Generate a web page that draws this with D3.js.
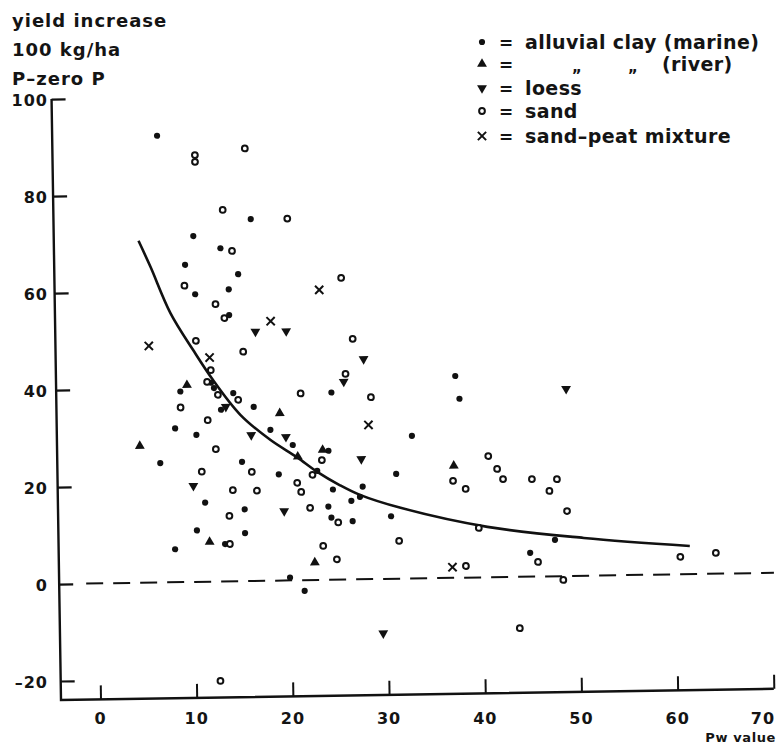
<!DOCTYPE html>
<html>
<head>
<meta charset="utf-8">
<script src="https://cdn.jsdelivr.net/npm/d3@7"></script>
<style>
    body { margin: 0; background: #fff; }
    text { font-family: "DejaVu Sans", sans-serif; font-weight: bold; fill: #141414; }
</style>
</head>
<body>
<div id="chart"></div>
<script>
// values: [Pw value, yield increase]
let marine = [
    [6.8, 92.1], [10.4, 71.3], [13.2, 68.7], [9.5, 65.4], [15.0, 63.3], [10.5, 59.3], [14.0, 60.2], [14.0, 54.9],
    [12.0, 41.0], [12.3, 39.9], [8.8, 39.3], [14.3, 38.8], [13.0, 35.4], [8.2, 31.7], [10.4, 30.3], [6.6, 24.6],
    [11.2, 16.3], [10.3, 10.6], [13.2, 7.7], [8.0, 6.8], [16.4, 74.6], [16.4, 35.9], [24.5, 38.6], [18.1, 31.1],
    [20.4, 27.9], [24.1, 26.6], [15.1, 24.6], [18.9, 21.9], [22.9, 22.5], [24.5, 18.6], [27.6, 19.1], [27.3, 17.0],
    [26.4, 16.2], [31.1, 21.6], [15.3, 14.8], [24.0, 15.1], [24.3, 12.8], [26.5, 12.0], [30.5, 12.9], [15.3, 9.9],
    [19.9, 0.6], [21.4, -2.2], [32.8, 29.4], [37.4, 41.6], [37.8, 36.9], [47.5, 7.5], [44.9, 4.9]
];
let river = [
    [4.5, 28.2], [9.5, 40.6], [11.6, 8.2], [19.1, 34.5], [20.9, 25.5], [23.5, 26.8], [22.5, 3.6], [37.1, 23.1]
];
let loess = [
    [10.0, 19.8], [16.7, 51.4], [19.9, 51.4], [27.9, 45.4], [25.8, 40.8], [16.1, 30.1], [19.7, 29.6], [27.5, 24.8],
    [19.4, 14.3], [29.5, -11.2], [13.5, 36.0], [48.9, 38.6]
];
let sand = [
    [10.7, 88.0], [10.7, 86.6], [13.5, 76.6], [14.4, 68.1], [9.4, 61.1], [12.6, 57.2], [13.5, 54.3], [10.5, 49.7],
    [12.0, 43.6], [11.6, 41.2], [12.7, 38.5], [14.8, 37.4], [8.8, 36.0], [11.6, 33.3], [12.4, 27.3], [10.9, 22.7],
    [14.1, 18.8], [13.7, 13.5], [13.7, 7.7], [12.5, -20.5], [15.9, 89.2], [20.2, 74.6], [25.7, 62.2], [15.4, 47.3],
    [26.8, 49.6], [26.0, 42.4], [21.3, 38.5], [28.6, 37.5], [23.4, 24.7], [16.1, 22.5], [22.4, 21.7], [16.6, 18.6],
    [20.8, 20.1], [21.2, 18.2], [22.1, 14.9], [25.0, 11.8], [23.4, 7.0], [24.8, 4.2], [31.3, 7.8],
    [40.7, 25.0], [41.6, 22.3], [42.2, 20.2], [45.2, 20.1], [37.0, 20.0], [38.3, 18.3], [39.6, 10.2], [38.2, 2.4],
    [45.7, 3.0], [43.7, -10.6], [47.0, 17.6], [47.8, 20.0], [48.8, 13.4], [48.3, -0.8], [60.5, 3.6], [64.2, 4.3]
];
let sandPeat = [
    [5.6, 48.8], [11.9, 46.2], [23.4, 59.8], [18.3, 53.5], [28.3, 31.8], [36.8, 2.2]
];

// fitted curve as drawn in the figure
let curvePw = [4.7, 5.9, 7.9, 10.2, 12.2, 15.0, 18.1, 20.8, 22.9, 25.2, 27.3, 31.5, 40.5, 50.5, 61.5];
let curveYield = [70.5, 65.1, 55.5, 47.8, 41.6, 34.3, 29.0, 25.4, 22.3, 19.5, 17.4, 14.6, 10.4, 7.8, 5.8];

// dashed zero line extent (Pw)
let zeroLine = [-1.3, 70.2];

let xTicks = [0, 10, 20, 30, 40, 50, 60, 70];
let yTicks = [-20, 0, 20, 40, 60, 80, 100];
let titleLines = ["yield increase", "100 kg/ha", "P\u2013zero P"];
let legendLabels = ["alluvial clay (marine)", "(river)", "loess", "sand", "sand\u2013peat mixture"];

let width = 780, height = 745;

let svg = d3.select("#chart")
    .append("svg")
    .attr("width", width)
    .attr("height", height);

// the drawn axes are a little skewed on the scan, so the plot is turned with them
let plot = svg.append("g")
    .attr("transform", "rotate(-0.9,62,700)");

let x = d3.scaleLinear().domain([0, 70]).range([100.5, 773.9]);
let y = d3.scaleLinear().domain([-20, 100]).range([681, 99]);
let axisX0 = 61, axisY0 = 700;

// axis lines
plot.append("path")
    .attr("d", "M" + axisX0 + "," + y(100) + "V" + axisY0 + "H" + x(70))
    .attr("fill", "none")
    .attr("stroke", "#111")
    .attr("stroke-width", 2.4);

// Y axis ticks
let yAxis = plot.append("g")
    .attr("transform", "translate(" + axisX0 + ",0)")
    .call(d3.axisLeft(y).tickValues(yTicks).tickSize(-14).tickFormat(""));
yAxis.select(".domain").remove();
yAxis.selectAll("line").attr("stroke", "#111").attr("stroke-width", 2.2);

// X axis ticks
let xAxis = plot.append("g")
    .attr("transform", "translate(0," + axisY0 + ")")
    .call(d3.axisBottom(x).tickValues(xTicks).tickSize(-14).tickFormat(""));
xAxis.select(".domain").remove();
xAxis.selectAll("line").attr("stroke", "#111").attr("stroke-width", 2);

// tick labels are typed level, not along the skewed axes
svg.append("g")
    .selectAll("text")
    .data(yTicks)
    .enter()
    .append("text")
    .attr("x", 48)
    .attr("y", function(d) { return y(d) + 1; })
    .attr("dy", "0.36em")
    .attr("text-anchor", "end")
    .style("font-size", "16px")
    .style("letter-spacing", "1px")
    .text(function(d) { return d < 0 ? "\u2013" + Math.abs(d) : d; });

svg.append("g")
    .selectAll("text")
    .data(xTicks)
    .enter()
    .append("text")
    .attr("x", function(d) { return d === 70 ? x(d) - 11 : x(d); })
    .attr("y", 724)
    .attr("text-anchor", "middle")
    .style("font-size", "16px")
    .style("letter-spacing", "1px")
    .text(function(d) { return d; });

// X axis label
svg.append("text")
    .attr("x", 776)
    .attr("y", 742)
    .attr("text-anchor", "end")
    .style("font-size", "13px")
    .style("letter-spacing", "0.6px")
    .text("Pw value");

// dashed zero line
plot.append("line")
    .attr("x1", x(zeroLine[0]))
    .attr("x2", x(zeroLine[1]))
    .attr("y1", y(0))
    .attr("y2", y(0))
    .attr("stroke", "#111")
    .attr("stroke-width", 2)
    .attr("stroke-dasharray", "17,10");

// the curve
plot.append("path")
    .datum(d3.zip(curvePw, curveYield))
    .attr("fill", "none")
    .attr("stroke", "#111")
    .attr("stroke-width", 2.6)
    .attr("d", d3.line()
        .x(function(d) { return x(d[0]); })
        .y(function(d) { return y(d[1]); })
        .curve(d3.curveCatmullRom));

// symbols per soil type
let kinds = [
    {data: marine, type: d3.symbolCircle, size: 30, fill: "#111", stroke: "none", rot: 0},
    {data: river, type: d3.symbolTriangle, size: 42, fill: "#111", stroke: "none", rot: 0},
    {data: loess, type: d3.symbolTriangle, size: 42, fill: "#111", stroke: "none", rot: 180},
    {data: sand, type: d3.symbolCircle, size: 26, fill: "#fff", stroke: "#111", rot: 0},
    {data: sandPeat, type: d3.symbolTimes, size: 46, fill: "none", stroke: "#111", rot: 0}
];

kinds.forEach(function(k) {
    plot.append("g")
        .selectAll("path")
        .data(k.data)
        .enter()
        .append("path")
        .attr("d", d3.symbol().type(k.type).size(k.size))
        .attr("transform", function(d) {
            return "translate(" + x(d[0]) + "," + y(d[1]) + ") rotate(" + k.rot + ")";
        })
        .attr("fill", k.fill)
        .attr("stroke", k.stroke)
        .attr("stroke-width", 2);
});

// title at top left
svg.append("g")
    .selectAll("text")
    .data(titleLines)
    .enter()
    .append("text")
    .attr("x", 12)
    .attr("y", function(d, i) { return 27 + i * 29; })
    .style("font-size", "18px")
    .style("letter-spacing", "1px")
    .text(function(d) { return d; });

// legend
let legend = svg.append("g").attr("transform", "translate(482,0)");
let legendY = [42, 64, 88, 111, 136];

legend.selectAll("path")
    .data(kinds)
    .enter()
    .append("path")
    .attr("d", function(k) { return d3.symbol().type(k.type).size(k.size)(); })
    .attr("transform", function(k, i) { return "translate(0," + legendY[i] + ") rotate(" + k.rot + ")"; })
    .attr("fill", function(k) { return k.fill; })
    .attr("stroke", function(k) { return k.stroke; })
    .attr("stroke-width", 2);

legend.selectAll("text.eq")
    .data(legendY)
    .enter()
    .append("text")
    .attr("class", "eq")
    .attr("x", 17)
    .attr("y", function(d) { return d + 7; })
    .style("font-size", "17px")
    .text("=");

legend.selectAll("text.lab")
    .data(legendLabels)
    .enter()
    .append("text")
    .attr("class", "lab")
    .attr("x", function(d, i) { return i === 1 ? 180 : 43; })
    .attr("y", function(d, i) { return legendY[i] + 7; })
    .style("font-size", "19px")
    .style("letter-spacing", "0.4px")
    .text(function(d) { return d; });

// ditto marks under "alluvial clay"
legend.selectAll("text.ditto")
    .data([90, 146])
    .enter()
    .append("text")
    .attr("class", "ditto")
    .attr("x", function(d) { return d; })
    .attr("y", legendY[1] + 8)
    .style("font-size", "15px")
    .text("\u201E");
</script>
</body>
</html>
